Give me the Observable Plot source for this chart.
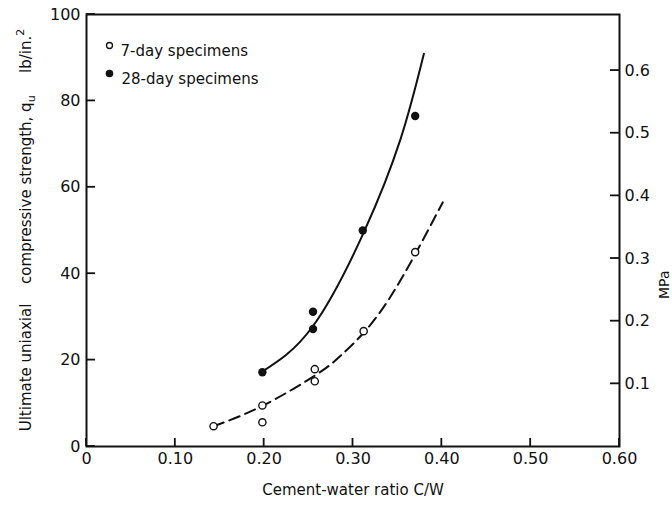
<!DOCTYPE html>
<html><head><meta charset="utf-8">
<script src="https://cdn.jsdelivr.net/npm/d3@7"></script>
<script src="https://cdn.jsdelivr.net/npm/@observablehq/plot@0.6"></script>
<style>body{margin:0;background:#fff}</style>
</head><body><div id="chart"></div>
<script>
// Measured specimens (C/W ratio, strength lb/in.^2)
const day7X = [0.143, 0.198, 0.198, 0.257, 0.257, 0.312, 0.370];
const day7Y = [4.7, 9.5, 5.6, 17.9, 15.1, 26.7, 45.0];
const day28X = [0.198, 0.255, 0.255, 0.311, 0.370];
const day28Y = [17.2, 31.2, 27.2, 50.0, 76.5];
// Fitted curves
const curve7X = [0.143, 0.197, 0.257, 0.286, 0.314, 0.342, 0.370, 0.401];
const curve7Y = [4.7, 9.3, 16.4, 21.0, 26.8, 34.6, 44.5, 56.5];
const curve28X = [0.1975, 0.254, 0.312, 0.3536, 0.3798];
const curve28Y = [17.3, 27.6, 49.5, 71.2, 90.9];
// Axis ticks
const xTicks = [0, 0.1, 0.2, 0.3, 0.4, 0.5, 0.6];
const yTicks = [0, 20, 40, 60, 80, 100];
const mpaTicks = [0.1, 0.2, 0.3, 0.4, 0.5, 0.6];
const psiPerMPa = 145.04;
const legendLabels = ["7-day specimens", "28-day specimens"];

const zip = (xs, ys) => xs.map((x, i) => ({x, y: ys[i]}));
const ink = "#111";

const W = 672, H = 506, mL = 86, mR = 53, mT = 14, mB = 60;

const svg = Plot.plot({
  width: W, height: H,
  marginLeft: mL, marginRight: mR, marginTop: mT, marginBottom: mB,
  x: {domain: [0, 0.6]},
  y: {domain: [0, 100]},
  style: {fontFamily: "DejaVu Sans, sans-serif", fontSize: "16px", color: ink, background: "#fff"},
  marks: [
    // tick labels
    Plot.axisX({ticks: xTicks, tickFormat: d => d === 0 ? "0" : d.toFixed(2), tickSize: 0, tickPadding: 6, label: null}),
    Plot.axisY({anchor: "left", ticks: yTicks, tickFormat: d => String(d), tickSize: 0, tickPadding: 6, label: null}),
    Plot.axisY({anchor: "right", ticks: mpaTicks.map(m => m * psiPerMPa), tickFormat: d => (d / psiPerMPa).toFixed(1), tickSize: 0, tickPadding: 5, label: null}),
    Plot.frame({stroke: ink, strokeWidth: 2, fill: "none"}),
    Plot.line(zip(curve28X, curve28Y), {x: "x", y: "y", curve: "natural", stroke: ink, strokeWidth: 2}),
    Plot.line(zip(curve7X, curve7Y), {x: "x", y: "y", curve: "natural", stroke: ink, strokeWidth: 2, strokeDasharray: "11,6"}),
    Plot.dot(zip(day7X, day7Y), {x: "x", y: "y", r: 3.6, fill: "#fff", stroke: ink, strokeWidth: 1.4}),
    Plot.dot(zip(day28X, day28Y), {x: "x", y: "y", r: 4.2, fill: ink, stroke: "none"}),
    // legend
    Plot.dot([legendLabels[0]], {frameAnchor: "top-left", dx: 23, dy: 31, r: 3, fill: "#fff", stroke: ink, strokeWidth: 1.3}),
    Plot.dot([legendLabels[1]], {frameAnchor: "top-left", dx: 23, dy: 59, r: 3.8, fill: ink}),
    Plot.text([legendLabels[0]], {frameAnchor: "top-left", text: d => d, dx: 34, dy: 31, textAnchor: "start", fontSize: 15, fill: ink}),
    Plot.text([legendLabels[1]], {frameAnchor: "top-left", text: d => d, dx: 35, dy: 59, textAnchor: "start", fontSize: 15, fill: ink}),
    // axis titles
    Plot.text(["Cement-water ratio C/W"], {frameAnchor: "bottom", text: d => d, dy: 48, fontSize: 15, fill: ink}),
    Plot.text(["MPa"], {frameAnchor: "right", text: d => d, dx: 45, dy: 40, rotate: -90, fontSize: 14, fill: ink})
  ]
});

// Inward tick marks as small filled rectangles, positioned with Plot's own scales
const sx = svg.scale("x"), sy = svg.scale("y");
const yBottom = H - mB, xLeft = mL, xRight = W - mR;
const gT = d3.select(svg).append("g").attr("fill", ink).attr("stroke", "none");
for (const v of xTicks) {
  const px = sx.apply(v);
  gT.append("rect").attr("x", px - 0.9).attr("y", yBottom - 8).attr("width", 1.8).attr("height", 8);
}
for (const v of yTicks) {
  const py = sy.apply(v);
  gT.append("rect").attr("x", xLeft).attr("y", py - 0.9).attr("width", 9).attr("height", 1.8);
}
for (const m of mpaTicks) {
  const py = sy.apply(m * psiPerMPa);
  gT.append("rect").attr("x", xRight - 9).attr("y", py - 0.9).attr("width", 9).attr("height", 1.8);
}

const t = d3.select(svg).append("text")
  .attr("transform", "translate(31,230) rotate(-90)")
  .attr("text-anchor", "middle")
  .attr("font-family", "DejaVu Sans, sans-serif")
  .attr("font-size", 15)
  .attr("fill", ink);
t.append("tspan").text("Ultimate uniaxial\u2003 compressive strength, q");
t.append("tspan").attr("font-size", 11).attr("dy", 4).text("u");
t.append("tspan").attr("dy", -4).text("\u2003\u2002lb/in.");
t.append("tspan").attr("font-size", 11).attr("dy", -7).text("2");

document.getElementById("chart").appendChild(svg);
</script>
</body></html>
